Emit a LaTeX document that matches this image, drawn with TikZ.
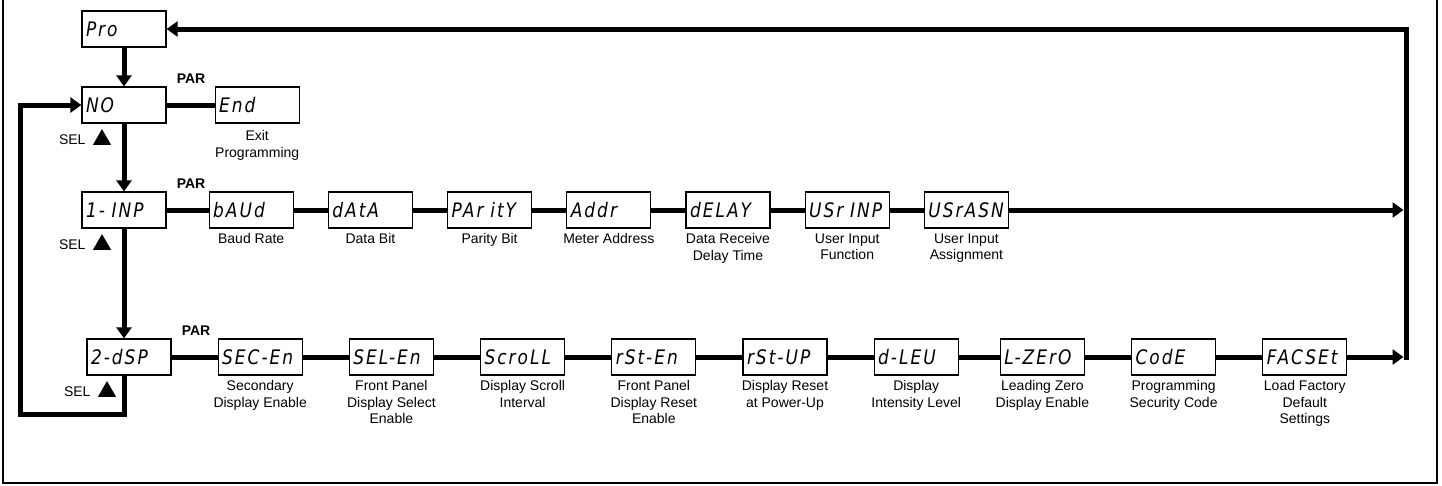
\documentclass[tikz,border=0pt]{standalone}
\usepackage{fontspec}
\setmainfont{Liberation Sans}
\newfontfamily\segfont[LetterSpace=10,FakeStretch=0.85]{DejaVu Sans}
\usetikzlibrary{arrows.meta,positioning,shapes.geometric}
\tikzset{
  disp/.style={draw,line width=1.2pt,text width=76pt,inner xsep=4pt,%
    minimum height=36pt,align=left,font=\segfont\itshape\fontsize{20}{20}\selectfont},
  note/.style={font=\fontsize{14}{16.5}\selectfont,align=center,inner sep=1pt},
  parlbl/.style={font=\bfseries\fontsize{14}{16}\selectfont,anchor=south west,inner sep=1pt},
  sellbl/.style={font=\fontsize{14}{16}\selectfont,inner sep=1pt},
  tri/.style={regular polygon,regular polygon sides=3,fill=black,minimum size=21pt,inner sep=0pt},
  link/.style={line width=5pt},
  flow/.style={line width=5pt,-{Triangle[length=11pt,width=15pt]}},
  frame/.style={line width=2.5pt},
}
\begin{document}
\begin{tikzpicture}[x=1pt,y=-1pt,line join=miter]
\useasboundingbox (0,0) rectangle (1442,485);
\draw[frame] (3,0) -- (3,483) -- (1437,483) -- (1437,0);

% first column
\node[disp] (pro) at (124,29)  {Pro};
\node[disp] (no)  at (124,105) {NO};
\node[disp] (inp) at (124,210) {1- INP};
\node[disp] (dsp) at (129,357) {2-dSP};
\node[disp,right=48pt of no] (end) {End};
\node[note,below=6pt of end] {Exit\\Programming};

% PAR / SEL marks
\foreach \b in {no,inp,dsp}{
  \node[parlbl] at ([xshift=9pt,yshift=2pt]\b.north east) {PAR};
  \node[tri] (tri\b) at ([xshift=-22pt,yshift=-16pt]\b.south) {};
  \node[sellbl,left=9pt of tri\b] {SEL};
}

% input row
\begin{scope}[node distance=34pt]
\node[disp,right=42pt of inp] (baud) {bAUd};
\node[disp,right=of baud]   (data)   {dAtA};
\node[disp,right=of data]   (parity) {PAr itY};
\node[disp,right=of parity] (addr)   {Addr};
\node[disp,right=of addr]   (delay)  {dELAY};
\node[disp,right=of delay]  (usrinp) {USr INP};
\node[disp,right=of usrinp] (usrasn) {USrASN};
\end{scope}
\node[note,below=4pt of baud]   {Baud Rate};
\node[note,below=4pt of data]   {Data Bit};
\node[note,below=4pt of parity] {Parity Bit};
\node[note,below=4pt of addr]   {Meter Address};
\node[note,below=4pt of delay]  {Data Receive\\Delay Time};
\node[note,below=4pt of usrinp] {User Input\\Function};
\node[note,below=4pt of usrasn] {User Input\\Assignment};

% display row
\begin{scope}[node distance=46pt]
\node[disp,right=of dsp]    (secen)  {SEC-En};
\node[disp,right=of secen]  (selen)  {SEL-En};
\node[disp,right=of selen]  (scroll) {ScroLL};
\node[disp,right=of scroll] (rsten)  {rSt-En};
\node[disp,right=of rsten]  (rstup)  {rSt-UP};
\node[disp,right=of rstup]  (dlev)   {d-LEU};
\node[disp,right=41pt of dlev] (lzero) {L-ZErO};
\node[disp,right=of lzero]  (code)   {CodE};
\node[disp,right=of code]   (facset) {FACSEt};
\end{scope}
\node[note,below=4pt of secen]  {Secondary\\Display Enable};
\node[note,below=4pt of selen]  {Front Panel\\Display Select\\Enable};
\node[note,below=4pt of scroll] {Display Scroll\\Interval};
\node[note,below=4pt of rsten]  {Front Panel\\Display Reset\\Enable};
\node[note,below=4pt of rstup]  {Display Reset\\at Power-Up};
\node[note,below=4pt of dlev]   {Display\\Intensity Level};
\node[note,below=4pt of lzero]  {Leading Zero\\Display Enable};
\node[note,below=4pt of code]   {Programming\\Security Code};
\node[note,below=4pt of facset] {Load Factory\\Default\\Settings};

% rails
\coordinate (railtop) at (1406,29);
\coordinate (railbot) at (1406,359.5);
\coordinate (loopbot) at (20,414);

% connectors
\draw[flow] (pro) -- (no);
\draw[link] (no) -- (end);
\draw[flow] (no) -- (inp);
\draw[flow] (inp.south) -- (inp.south |- dsp.north);
\draw[link] (inp) -- (baud) -- (data) -- (parity) -- (addr) -- (delay) -- (usrinp) -- (usrasn);
\draw[link] (dsp) -- (secen) -- (selen) -- (scroll) -- (rsten) -- (rstup) -- (dlev) -- (lzero) -- (code) -- (facset);
\draw[flow,shorten >=2.5pt] (usrasn) -- (usrasn -| railtop);
\draw[flow,shorten >=2.5pt] (facset) -- (facset -| railbot);
\draw[flow] (railbot) -- (railtop) -- (pro);
\draw[flow] (inp.south |- dsp.south) |- (loopbot) |- (no.west);
\end{tikzpicture}
\end{document}
